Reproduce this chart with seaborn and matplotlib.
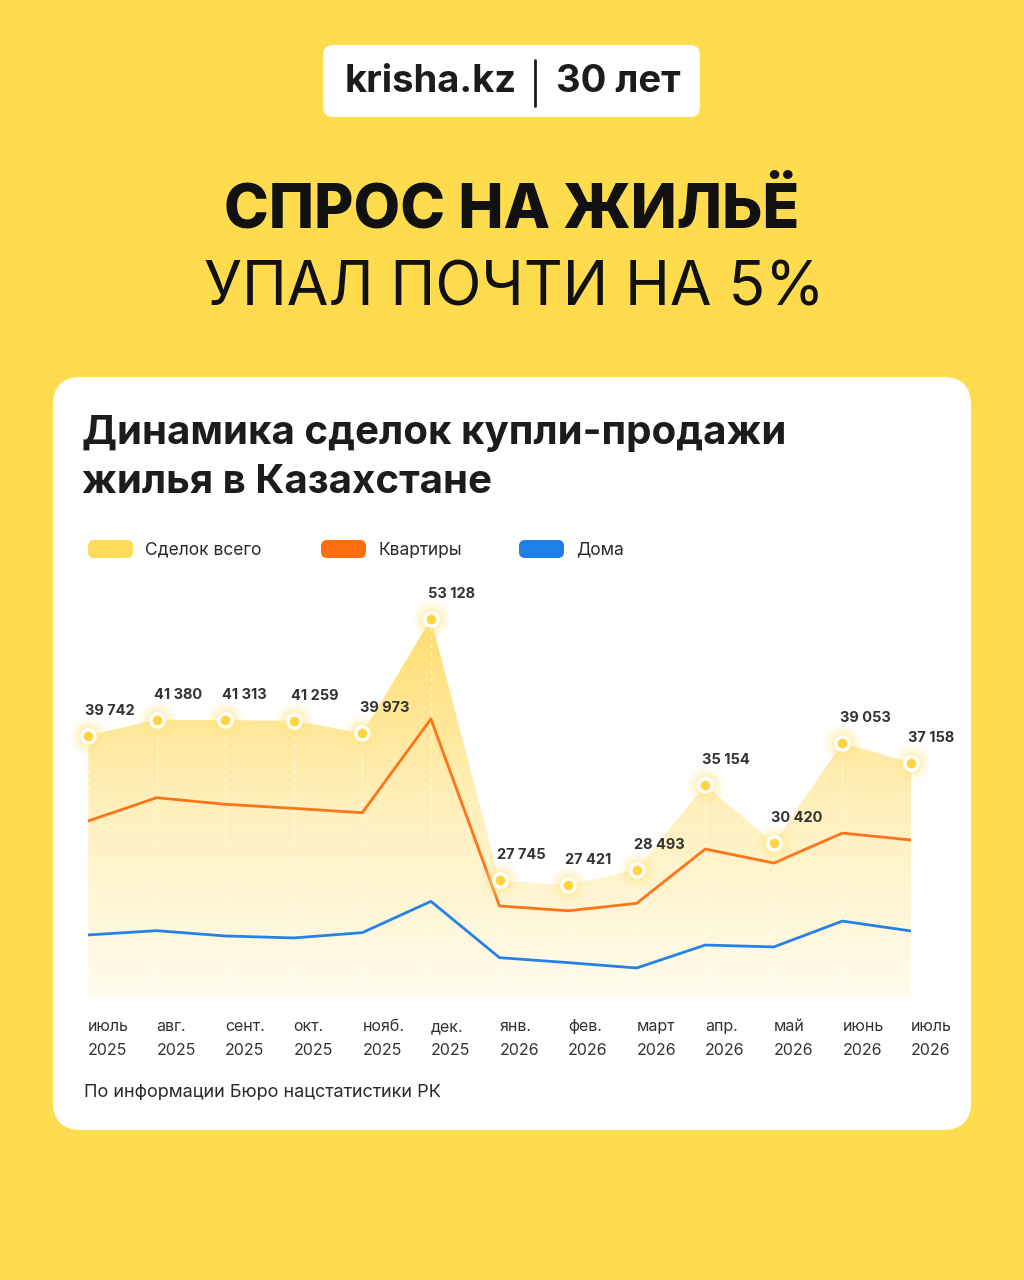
import numpy as np
import pandas as pd
import matplotlib
matplotlib.use("Agg")
import matplotlib.pyplot as plt
import seaborn as sns
from matplotlib.patches import FancyBboxPatch, Polygon
from matplotlib.colors import LinearSegmentedColormap

# данные (сделок в месяц)
months = ["июль\n2025", "авг.\n2025", "сент.\n2025", "окт.\n2025", "нояб.\n2025", "дек.\n2025",
          "янв.\n2026", "фев.\n2026", "март\n2026", "апр.\n2026", "май\n2026", "июнь\n2026", "июль\n2026"]
total = [39742, 41380, 41313, 41259, 39973, 53128, 27745, 27421, 28493, 35154, 30420, 39053, 37158]
flats = [32150, 34070, 33520, 33180, 32820, 41440, 26030, 25720, 26200, 29990, 28960, 31200, 30670]
houses = [24220, 24480, 24160, 24040, 24360, 26330, 22890, 22610, 22310, 23620, 23510, 25070, 24460]

YELLOW_BG = "#FFDB4E"
DOT = "#FFD445"
ORANGE = "#FF7417"
BLUE = "#2681E6"
DARK = "#1C1C1E"

sns.set_theme(style="white")
plt.rcParams['font.family'] = ['Inter', 'DejaVu Sans']

df = pd.DataFrame({"i": np.arange(len(months)), "total": total, "flats": flats, "houses": houses})

fig = plt.figure(figsize=(10.24, 12.8), dpi=100)
fig.patch.set_facecolor(YELLOW_BG)

# фоновая ось в пикселях
bg = fig.add_axes([0, 0, 1, 1])
bg.set_xlim(0, 1024)
bg.set_ylim(1280, 0)
bg.axis('off')

bg.add_patch(FancyBboxPatch((323, 45), 377, 72, boxstyle="round,pad=0,rounding_size=10",
                            fc="white", ec="none"))
bg.text(345, 82, "krisha.kz", fontsize=27.5, fontweight="bold", color=DARK, ha="left", va="center")
bg.plot([535, 535], [60, 106], color=DARK, lw=2)
bg.text(556, 82, "30 лет", fontsize=27.5, fontweight="bold", color=DARK, ha="left", va="center")

bg.text(512, 211, "СПРОС НА ЖИЛЬЁ", fontsize=43.5, fontweight="heavy", color="#111111",
        ha="center", va="center")
bg.text(514, 290, "УПАЛ ПОЧТИ НА 5%", fontsize=43.5, fontweight="normal", color="#111111",
        ha="center", va="center")

bg.add_patch(FancyBboxPatch((53, 377), 918, 753, boxstyle="round,pad=0,rounding_size=28",
                            fc="white", ec="none"))
bg.text(82, 458, "Динамика сделок купли-продажи\nжилья в Казахстане", fontsize=29,
        fontweight="bold", color=DARK, ha="left", va="center", linespacing=1.38)

# легенда
legend_items = [("Сделок всего", "#FFDB5C", 88), ("Квартиры", "#FF6F0F", 321), ("Дома", "#1E7FE8", 519)]
for name, col, lx in legend_items:
    bg.add_patch(FancyBboxPatch((lx, 540), 45, 18, boxstyle="round,pad=0,rounding_size=6",
                                fc=col, ec="none"))
    bg.text(lx + 57, 550, name, fontsize=12.5, color="#2A2A2A", ha="left", va="center")

bg.text(84, 1093, "По информации Бюро нацстатистики РК", fontsize=13, color="#2A2A2A",
        ha="left", va="center")

# график (логарифмическая шкала, без подписей оси Y)
ylo, yhi = 20706, 61524
ax = fig.add_axes([88 / 1024, 1 - 998 / 1280, (911 - 88) / 1024, (998 - 560) / 1280])
ax.patch.set_alpha(0)
ax.set_yscale("log")
ax.set_xlim(0, 12)
ax.set_ylim(ylo, yhi)

grad = np.linspace(0, 1, 256).reshape(-1, 1)
cmap = LinearSegmentedColormap.from_list("fill", ["#FFFCEE", "#FFF0BD", "#FFDD6E"])
top_frac = (np.log(max(total)) - np.log(ylo)) / (np.log(yhi) - np.log(ylo))
im = ax.imshow(grad, extent=[0, 1, 0, top_frac], origin="lower", aspect="auto",
               cmap=cmap, zorder=1, transform=ax.transAxes)
verts = [(0, ylo)] + list(zip(df["i"], df["total"])) + [(12, ylo)]
clip = Polygon(verts, closed=True, transform=ax.transData, fc="none", ec="none")
ax.add_patch(clip)
im.set_clip_path(clip)
ax.set_xlim(0, 12)
ax.set_ylim(ylo, yhi)

ax.vlines(df["i"], ylo, df["total"], colors="white", linestyles=(0, (3, 3)), lw=1, alpha=0.65, zorder=2)

sns.lineplot(data=df, x="i", y="flats", color=ORANGE, lw=2, ax=ax, zorder=3)
sns.lineplot(data=df, x="i", y="houses", color=BLUE, lw=2, ax=ax, zorder=3)

# свечение вокруг точек
for s, a in [(700, 0.12), (420, 0.18), (240, 0.25)]:
    ax.scatter(df["i"], df["total"], s=s, color="#FFE680", alpha=a, lw=0, zorder=4, clip_on=False)
sns.scatterplot(data=df, x="i", y="total", s=90, color=DOT, edgecolor="white", linewidth=2.4,
                ax=ax, zorder=5, clip_on=False)

for xi, v in zip(df["i"], df["total"]):
    ax.annotate(f"{v:,}".replace(",", " "), (xi, v), xytext=(-2, 18), textcoords="offset points",
                ha="left", va="center", fontsize=10.5, fontweight="bold", color="#333333",
                annotation_clip=False, zorder=6)

ax.set_xticks(df["i"])
ax.set_xticklabels(months, ha="left")
for lbl in ax.get_xticklabels():
    lbl.set_linespacing(1.8)
ax.set_yticks([])
ax.minorticks_off()
ax.tick_params(axis="x", length=0, pad=15, labelsize=11.5, labelcolor="#333333")
ax.tick_params(axis="y", which="both", length=0, labelleft=False)
ax.set_xlabel("")
ax.set_ylabel("")
sns.despine(ax=ax, left=True, bottom=True)

fig.savefig("out.png", dpi=100, facecolor=fig.get_facecolor())
